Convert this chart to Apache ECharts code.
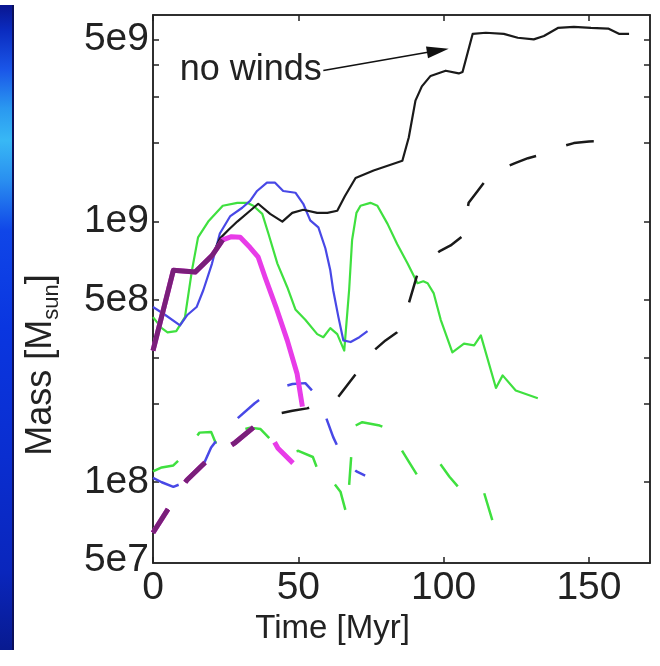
<!DOCTYPE html>
<html><head><meta charset="utf-8">
<script src="https://cdn.jsdelivr.net/npm/echarts@6/dist/echarts.min.js"></script>
<style>html,body{margin:0;padding:0;background:#fff}#c{width:660px;height:666px}</style>
</head><body><div id="c"></div>
<script>
// ---- axis ticks / labels ----
const xTickValues = [0, 50, 100, 150];
const yLabelValues = [5e7, 1e8, 5e8, 1e9, 5e9];
const yLabelTexts = ['5e7', '1e8', '5e8', '1e9', '5e9'];
const yTickValues = [1e8, 2e8, 3e8, 5e8, 1e9, 2e9, 3e9, 4e9, 5e9];

// ---- series data (time [Myr], mass [Msun]) ----
const blackSolidT = [0, 7, 14.5, 20.3, 23, 26, 29, 33.4, 36.2, 40.3, 44.5, 47.9, 51.7, 56.5, 60, 63.4, 66, 69.7, 75.9, 85.8, 88, 90.3, 92.5, 95.5, 100.7, 105.2, 106.5, 110, 114.5, 120.7, 125.5, 131, 134.5, 139.3, 144.8, 150.7, 156.6, 160.3, 163.8];
const blackSolidM = [3.2e8, 6.5e8, 6.4e8, 7.4e8, 8.6e8, 9.3e8, 1.0e9, 1.1e9, 1.17e9, 1.07e9, 1.0e9, 1.08e9, 1.11e9, 1.08e9, 1.08e9, 1.1e9, 1.25e9, 1.47e9, 1.57e9, 1.71e9, 2.1e9, 2.91e9, 3.3e9, 3.62e9, 3.79e9, 3.7e9, 3.75e9, 5.25e9, 5.3e9, 5.25e9, 5.07e9, 5.0e9, 5.15e9, 5.53e9, 5.58e9, 5.53e9, 5.5e9, 5.25e9, 5.25e9];

const blackDashT = [0, 5.2, 8, 11.7, 18.6, 23, 28.3, 36.2, 40, 43.8, 48, 53, 58, 62.8, 68, 72, 76, 80, 84, 88, 91, 95, 99, 102.4, 106.5, 108.6, 111.5, 114.5, 119, 124.8, 129, 134.5, 140, 144.8, 150, 155.9];
const blackDashM = [6.4e7, 7.9e7, 9e7, 1.02e8, 1.21e8, 1.3e8, 1.42e8, 1.68e8, 1.78e8, 1.84e8, 1.88e8, 1.92e8, 2.0e8, 2.06e8, 2.45e8, 2.8e8, 3.2e8, 3.5e8, 3.76e8, 4.85e8, 6.3e8, 7.2e8, 7.74e8, 8.1e8, 8.8e8, 1.18e9, 1.3e9, 1.44e9, 1.58e9, 1.68e9, 1.75e9, 1.82e9, 1.93e9, 2.0e9, 2.03e9, 2.04e9];

const blueSolidT = [0, 4, 9.3, 11.7, 15, 17.3, 20.3, 23, 26.6, 30.7, 33.4, 35.8, 39.2, 42, 44.8, 49, 51.7, 54.1, 56.9, 59.3, 61, 62, 63.8, 65.5, 68, 71, 73.8];
const blueSolidM = [4.7e8, 4.4e8, 4.0e8, 4.37e8, 4.7e8, 5.45e8, 6.9e8, 9.0e8, 1.05e9, 1.13e9, 1.2e9, 1.31e9, 1.41e9, 1.41e9, 1.31e9, 1.29e9, 1.17e9, 1.01e9, 9.5e8, 7.9e8, 6.5e8, 5.45e8, 4.3e8, 3.5e8, 3.45e8, 3.6e8, 3.8e8];

const blueDashT = [0, 3, 7, 11, 16, 20, 24, 27.6, 35, 40, 44, 48, 52.4, 55.5, 58.6, 62, 64.5, 67, 70, 73];
const blueDashM = [1.04e8, 1.0e8, 9.6e7, 1.0e8, 1.08e8, 1.36e8, 1.55e8, 1.7e8, 2.01e8, 2.2e8, 2.31e8, 2.38e8, 2.4e8, 2.2e8, 1.89e8, 1.49e8, 1.3e8, 1.18e8, 1.1e8, 1.06e8];

const greenSolidT = [0, 3, 5, 8, 11, 13.4, 15.5, 19, 24, 29, 32.4, 34.5, 37.6, 39.7, 42.8, 46.2, 49, 52.4, 56.5, 58.6, 61, 63.4, 65.8, 67.5, 68.5, 70, 71.4, 74.8, 77.2, 80.7, 84, 87.6, 91, 93, 94.5, 96.6, 99, 103, 107, 110.5, 112.8, 118, 120.3, 124.8, 132.4];
const greenSolidM = [4.3e8, 3.9e8, 3.76e8, 3.8e8, 4.3e8, 6.5e8, 8.7e8, 1.0e9, 1.15e9, 1.18e9, 1.18e9, 1.15e9, 1.07e9, 9e8, 6.9e8, 5.6e8, 4.6e8, 4.2e8, 3.7e8, 3.6e8, 3.9e8, 3.7e8, 3.2e8, 5.5e8, 8.5e8, 1.08e9, 1.15e9, 1.18e9, 1.15e9, 9.8e8, 8.2e8, 6.9e8, 5.8e8, 5.9e8, 5.8e8, 5.3e8, 4.2e8, 3.15e8, 3.4e8, 3.35e8, 3.66e8, 2.3e8, 2.57e8, 2.25e8, 2.1e8];

const greenDashT = [0, 3, 7, 10, 13.4, 16, 20, 21.5, 25, 30, 33.4, 37, 42, 48, 50, 55, 58.6, 62, 64.5, 66.5, 67.5, 68.6, 69.7, 72, 78, 81, 84.5, 88, 91, 95, 98, 102, 105, 110, 113.8, 117, 119, 121.4];
const greenDashM = [1.1e8, 1.14e8, 1.16e8, 1.25e8, 1.42e8, 1.55e8, 1.56e8, 1.42e8, 1.45e8, 1.58e8, 1.62e8, 1.6e8, 1.4e8, 1.3e8, 1.32e8, 1.25e8, 9.8e7, 1.0e8, 9.2e7, 7.6e7, 9.8e7, 1.45e8, 1.65e8, 1.7e8, 1.65e8, 1.6e8, 1.39e8, 1.2e8, 1.06e8, 1.18e8, 1.21e8, 1.05e8, 9.6e7, 8.8e7, 9.2e7, 7.0e7, 6.3e7, 5.8e7];

const magentaSolidT = [0, 7, 14.5, 20.3, 24, 27, 30, 33.4, 36.2, 38.6, 42.6, 46.2, 49.6, 51.4];
const magentaSolidM = [3.2e8, 6.5e8, 6.4e8, 7.4e8, 8.5e8, 8.75e8, 8.7e8, 7.95e8, 7.3e8, 6.1e8, 4.6e8, 3.5e8, 2.6e8, 1.95e8];

const magentaDashT = [0, 5.2, 8, 11.7, 18.6, 23, 28.3, 36.2, 39, 43, 50];
const magentaDashM = [6.4e7, 7.9e7, 9e7, 1.02e8, 1.21e8, 1.3e8, 1.42e8, 1.68e8, 1.62e8, 1.35e8, 1.13e8];

const purpleSolidT = [0, 7, 14.5, 20.3, 24];
const purpleSolidM = [3.2e8, 6.5e8, 6.4e8, 7.4e8, 8.5e8];

const purpleDashT = [0, 5.2, 8, 11.7, 18.6, 23, 28.3, 36.2];
const purpleDashM = [6.4e7, 7.9e7, 9e7, 1.02e8, 1.21e8, 1.3e8, 1.42e8, 1.68e8];

// annotation
const arrowFrom = [58.6, 3.8e9];
const arrowTo = [98, 4.53e9];
const annotationText = 'no winds';

function pairs(t, m) { return t.map((v, i) => [v, m[i]]); }

const FONT = '"Liberation Sans", Arial, Helvetica, sans-serif';
const DASH = [28, 32];

function line(data, color, width, dashed, extra) {
  return Object.assign({
    type: 'line', data: data, showSymbol: false, symbol: 'none', smooth: false,
    lineStyle: { color: color, width: width, type: dashed ? DASH : 'solid', cap: 'butt', join: 'round' },
    itemStyle: { color: color }, silent: true
  }, extra || {});
}

function yLabel(v) {
  for (let i = 0; i < yLabelValues.length; i++) {
    if (Math.abs(Math.log10(v) - Math.log10(yLabelValues[i])) < 0.01) return yLabelTexts[i];
  }
  return '';
}

const chart = echarts.init(document.getElementById('c'), null, { renderer: 'canvas' });

const stripGradient = new echarts.graphic.LinearGradient(0, 0, 0, 1, [
  { offset: 0, color: '#0a1690' }, { offset: 0.04, color: '#0b2cc0' },
  { offset: 0.1, color: '#1a56e8' }, { offset: 0.16, color: '#2a98f0' },
  { offset: 0.21, color: '#38b8f5' }, { offset: 0.27, color: '#2a90f0' },
  { offset: 0.35, color: '#1046e8' }, { offset: 0.5, color: '#0a36e0' },
  { offset: 0.7, color: '#0a2ed0' }, { offset: 0.88, color: '#0a26bc' },
  { offset: 1, color: '#081a90' }
]);

const option = {
  animation: false,
  backgroundColor: '#ffffff',
  textStyle: { fontFamily: FONT },
  graphic: [
    { type: 'rect', left: 0, top: 5, shape: { width: 13, height: 645 }, style: { fill: stripGradient } },
    { type: 'rect', left: 12, top: 5, shape: { width: 2, height: 645 }, style: { fill: '#0a0f5a' } }
  ],
  grid: { left: 153, right: 10, top: 15, bottom: 103, show: true, borderColor: '#222', borderWidth: 1.5, backgroundColor: 'transparent' },
  xAxis: [
    {
      type: 'value', min: 0, max: 171, position: 'bottom',
      name: 'Time [Myr]', nameLocation: 'middle', nameGap: 40,
      nameTextStyle: { fontSize: 33, color: '#222', fontFamily: FONT, padding: [0, 138, 0, 0] },
      axisLine: { show: true, onZero: false, lineStyle: { color: '#222', width: 1.5 } },
      axisTick: { show: true, inside: true, length: 6, customValues: xTickValues, lineStyle: { color: '#222', width: 1.5 } },
      axisLabel: { show: true, customValues: xTickValues, fontSize: 39, color: '#222', fontFamily: FONT, margin: 6 },
      splitLine: { show: false }
    },
    {
      type: 'value', min: 0, max: 171, position: 'top',
      axisLine: { show: true, onZero: false, lineStyle: { color: '#222', width: 1.5 } },
      axisTick: { show: true, inside: true, length: 6, customValues: xTickValues, lineStyle: { color: '#222', width: 1.5 } },
      axisLabel: { show: false }, splitLine: { show: false }
    }
  ],
  yAxis: [
    {
      type: 'log', logBase: 10, min: 4.9e7, max: 6.2e9, position: 'left',
      name: '{a|Mass [M}{s|sun}{a|]}', nameLocation: 'middle', nameGap: 90, nameRotate: 90,
      nameTextStyle: {
        color: '#222', fontFamily: FONT, padding: [0, 152, 0, 0],
        rich: {
          a: { fontSize: 36, color: '#222', fontFamily: FONT, lineHeight: 44, verticalAlign: 'middle' },
          s: { fontSize: 22, color: '#222', fontFamily: FONT, lineHeight: 44, verticalAlign: 'bottom', padding: [16, 0, 0, 0] }
        }
      },
      axisLine: { show: true, onZero: false, lineStyle: { color: '#222', width: 1.5 } },
      axisTick: { show: true, inside: true, length: 6, customValues: yTickValues, lineStyle: { color: '#222', width: 1.5 } },
      axisLabel: { show: true, customValues: yLabelValues, formatter: yLabel, fontSize: 39, color: '#222', fontFamily: FONT, margin: 4 },
      splitLine: { show: false }, minorTick: { show: false }
    },
    {
      type: 'log', logBase: 10, min: 4.9e7, max: 6.2e9, position: 'right',
      axisLine: { show: true, onZero: false, lineStyle: { color: '#222', width: 1.5 } },
      axisTick: { show: true, inside: true, length: 6, customValues: yTickValues, lineStyle: { color: '#222', width: 1.5 } },
      axisLabel: { show: false }, splitLine: { show: false }
    }
  ],
  series: [
    line(pairs(greenDashT, greenDashM), '#3fe03f', 2.5, true),
    line(pairs(greenSolidT, greenSolidM), '#3fe03f', 2.2, false),
    line(pairs(blueDashT, blueDashM), '#4848e6', 2.5, true),
    line(pairs(blueSolidT, blueSolidM), '#4848e6', 2.2, false),
    line(pairs(blackDashT, blackDashM), '#1a1a1a', 2.5, true),
    line(pairs(blackSolidT, blackSolidM), '#1a1a1a', 2.2, false, {
      markLine: {
        silent: true, animation: false,
        symbol: ['none', 'triangle'], symbolSize: [12, 22],
        lineStyle: { color: '#111', width: 1.6, type: 'solid' },
        label: { show: false },
        data: [[{ coord: arrowFrom }, { coord: arrowTo }]]
      },
      markPoint: {
        silent: true, animation: false,
        symbol: 'circle', symbolSize: 1, itemStyle: { color: 'rgba(0,0,0,0)' },
        label: { show: true, position: 'left', distance: 1, formatter: annotationText, fontSize: 36, color: '#222', fontFamily: FONT },
        data: [{ coord: arrowFrom }]
      }
    }),
    line(pairs(magentaDashT, magentaDashM), '#e83ce8', 5, true),
    line(pairs(magentaSolidT, magentaSolidM), '#e83ce8', 5, false),
    line(pairs(purpleDashT, purpleDashM), '#7a1f7a', 5, true),
    line(pairs(purpleSolidT, purpleSolidM), '#7a1f7a', 5, false)
  ]
};
chart.setOption(option);
</script></body></html>
